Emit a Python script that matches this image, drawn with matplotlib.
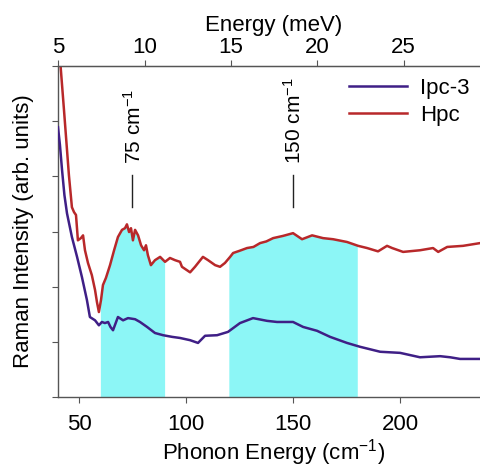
import numpy as np
import matplotlib
matplotlib.use("Agg")
import matplotlib.pyplot as plt

plt.rcParams['font.family'] = ['Liberation Sans', 'DejaVu Sans']
plt.rcParams['mathtext.fontset'] = 'custom'
plt.rcParams['mathtext.rm'] = 'Liberation Sans'
plt.rcParams['mathtext.it'] = 'Liberation Sans'

# ---- data ----
hpc_x = [40.5, 41.5, 43.0, 45.3, 46.7, 47.7, 48.6, 49.5, 50.9, 51.9, 52.8, 54.2, 56.0, 57.5,
         58.4, 59.3, 60.3, 61.2, 62.6, 64.5, 66.4, 68.2, 70.1, 71.5, 72.4, 73.4, 74.3, 75.2,
         76.2, 77.6, 79.0, 80.4, 81.3, 82.2, 83.6, 85.5, 87.9, 90.2, 92.5, 94.9, 97.2, 98.1,
         101.9, 104.2, 107.9, 110.3, 113.6, 115.9, 118.2, 120.6, 122.0, 125.0, 128.5, 131.5,
         134.6, 137.5, 140.7, 145.3, 150.0, 154.2, 158.9, 164.0, 168.7, 175.2, 180.4, 184.6,
         189.7, 193.9, 196.3, 201.4, 209.3, 215.4, 217.8, 222.0, 229.4, 237.4, 242.0]
hpc_y = [6.6, 5.95, 5.2, 4.02, 3.44, 3.35, 3.30, 2.84, 2.88, 2.93, 2.66, 2.43, 2.21, 1.94,
         1.72, 1.54, 1.76, 2.03, 2.16, 2.39, 2.66, 2.90, 3.03, 3.06, 3.13, 2.99, 3.06, 2.84,
         3.03, 2.93, 2.75, 2.66, 2.75, 2.57, 2.39, 2.48, 2.54, 2.45, 2.52, 2.48, 2.45, 2.36,
         2.26, 2.36, 2.54, 2.48, 2.39, 2.36, 2.43, 2.54, 2.61, 2.65, 2.70, 2.72, 2.79, 2.82,
         2.88, 2.92, 2.97, 2.86, 2.93, 2.88, 2.86, 2.81, 2.74, 2.70,
         2.64, 2.74, 2.70, 2.63, 2.66, 2.70, 2.63, 2.72, 2.74, 2.79, 2.80]

ipc_x = [40.2, 41.1, 42.1, 43.2, 44.4, 46.7, 49.1, 51.4, 53.7, 55.1, 57.5, 59.3, 60.7, 62.1,
         63.6, 64.7, 65.9, 68.2, 70.6, 72.9, 76.2, 78.5, 81.8, 85.5, 89.3, 93.5, 97.2, 101.9,
         105.6, 108.9, 114.5, 119.6, 125.2, 131.3, 137.9, 142.5, 150.0, 154.7, 161.2, 167.3,
         175.2, 181.3, 190.7, 200.0, 209.3, 218.7, 223.4, 228.0, 237.4, 242.0]
ipc_y = [4.89, 4.57, 4.11, 3.66, 3.33, 2.90, 2.54, 2.17, 1.76, 1.45, 1.39, 1.30, 1.36, 1.34,
         1.36, 1.27, 1.21, 1.45, 1.39, 1.43, 1.41, 1.36, 1.27, 1.16, 1.12, 1.09, 1.07, 1.03,
         0.98, 1.11, 1.12, 1.18, 1.34, 1.43, 1.38, 1.36, 1.36, 1.27, 1.20, 1.09, 0.98, 0.91,
         0.82, 0.80, 0.72, 0.74, 0.72, 0.69, 0.69, 0.69]

bands = [(60, 90), (120, 180)]
peaks = [75, 150]
peak_labels = ["75 cm$^{-1}$", "150 cm$^{-1}$"]
bottom_ticks = [50, 100, 150, 200]
top_ticks = [5, 10, 15, 20, 25]
CM_PER_MEV = 8.0655

# ---- figure ----
fig = plt.figure(figsize=(4.8, 4.7), dpi=100)
W, H = 480, 470
left_px, right_px, top_px, bot_px = 58, 490, 66, 397
ax = fig.add_axes([left_px / W, (H - bot_px) / H, (right_px - left_px) / W, (bot_px - top_px) / H])

fs = 16
red = '#b8282a'
purple = '#3f1f86'
cyan = '#8cf6f6'
spine_c = '#555555'

hx = np.array(hpc_x); hy = np.array(hpc_y)
for a, b in bands:
    xs = np.linspace(a, b, 300)
    ax.fill_between(xs, 0, np.interp(xs, hx, hy), color=cyan, lw=0, zorder=1)

ax.plot(ipc_x, ipc_y, color=purple, lw=1.8, label='Ipc-3', zorder=3)
ax.plot(hpc_x, hpc_y, color=red, lw=1.8, label='Hpc', zorder=2)

ax.set_xlim(40.2, 242)
ax.set_ylim(0, 6)

for p, lab in zip(peaks, peak_labels):
    ax.plot([p, p], [3.44, 4.02], color='#222222', lw=1.0)
    ax.text(p + 0.5, 4.22, lab, rotation=90, ha='center', va='bottom', fontsize=fs - 1)

ax.set_xticks(bottom_ticks)
ax.set_yticks([0, 1, 2, 3, 4, 5, 6])
ax.set_yticklabels([])
ax.tick_params(axis='both', direction='out', length=4, width=0.8, color=spine_c, labelsize=fs)
ax.tick_params(axis='x', pad=8)
for s in ['left', 'bottom', 'top']:
    ax.spines[s].set_color(spine_c)
    ax.spines[s].set_linewidth(1.0)
ax.spines['right'].set_visible(False)

ax.set_xlabel('Phonon Energy (cm$^{-1}$)', fontsize=fs, labelpad=2)
ax.set_ylabel('Raman Intensity (arb. units)', fontsize=fs, labelpad=10)

sec = ax.secondary_xaxis('top', functions=(lambda x: x / CM_PER_MEV, lambda e: e * CM_PER_MEV))
sec.set_xticks(top_ticks)
sec.tick_params(direction='out', length=4, width=0.8, color=spine_c, labelsize=fs, pad=2)
sec.spines['top'].set_color(spine_c)
sec.set_xlabel('Energy (meV)', fontsize=fs, labelpad=4)

leg = ax.legend(loc='upper left', bbox_to_anchor=((340 - left_px) / (right_px - left_px), 0.99),
                frameon=False, fontsize=fs, handlelength=2.6, handletextpad=0.6,
                labelspacing=0.25, borderaxespad=0)

fig.savefig('out.png', dpi=100)
